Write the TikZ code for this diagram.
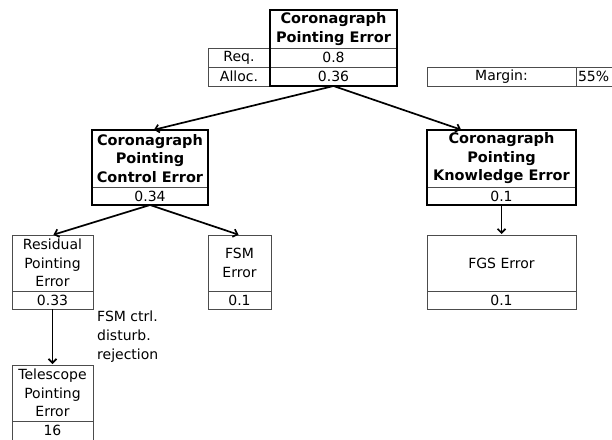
\documentclass[tikz,border=0pt]{standalone}
\usepackage{fontspec}
\setmainfont{DejaVu Sans}
\usetikzlibrary{positioning,calc,arrows.meta}

\begin{document}
\begin{tikzpicture}[x=1pt,y=-1pt,
  cell/.style={draw=black!70,line width=0.8pt,outer sep=0pt,inner sep=0pt,align=center,font=\fontsize{14}{18.5}\selectfont},
  headcell/.style={cell,font=\fontsize{14.5}{18.5}\selectfont\bfseries},
  frame/.style={draw=black,line width=1.8pt},
  link/.style={-{Straight Barb[length=4pt,width=8pt]},line width=1.7pt,shorten >=1pt}]
\useasboundingbox (0,0) rectangle (612,439);
\node[headcell,minimum width=127pt,minimum height=38pt] (top) at (333.5,29) {Coronagraph\\Pointing Error};
\node[cell,minimum width=127pt,minimum height=19pt,below=0pt of top] (topreq) {0.8};
\node[cell,minimum width=127pt,minimum height=19pt,below=0pt of topreq] (topalloc) {0.36};
\node[cell,minimum width=62pt,minimum height=19pt,left=0pt of topreq] (reqlabel) {Req.};
\node[cell,minimum width=62pt,minimum height=19pt,left=0pt of topalloc] (alloclabel) {Alloc.};
\draw[frame] (top.north west) rectangle (topalloc.south east);
\node[cell,minimum width=149pt,minimum height=19pt] (margin) at (501.5,76.5) {Margin:};
\node[cell,minimum height=19pt,text width=40pt,inner xsep=2pt,align=left,right=0pt of margin] (marginval) {55\%};
\node[headcell,minimum width=116pt,minimum height=57pt] (ctrl) at (150,158.5) {Coronagraph\\Pointing\\Control Error};
\node[cell,minimum width=116pt,minimum height=18pt,below=0pt of ctrl] (ctrlval) {0.34};
\draw[frame] (ctrl.north west) rectangle (ctrlval.south east);
\node[headcell,minimum width=149pt,minimum height=57pt] (know) at (501.5,158.5) {Coronagraph\\Pointing\\Knowledge Error};
\node[cell,minimum width=149pt,minimum height=18pt,below=0pt of know] (knowval) {0.1};
\draw[frame] (know.north west) rectangle (knowval.south east);
\node[cell,minimum width=81pt,minimum height=56pt] (resid) at (52.5,263) {Residual\\Pointing\\Error};
\node[cell,minimum width=81pt,minimum height=18pt,below=0pt of resid] (residval) {0.33};
\node[cell,minimum width=63pt,minimum height=56pt] (fsm) at (239.5,263) {FSM\\Error};
\node[cell,minimum width=63pt,minimum height=18pt,below=0pt of fsm] (fsmval) {0.1};
\node[cell,minimum width=149pt,minimum height=56pt] (fgs) at (501.5,263) {FGS Error};
\node[cell,minimum width=149pt,minimum height=18pt,below=0pt of fgs] (fgsval) {0.1};
\node[cell,minimum width=81pt,minimum height=56pt] (tele) at (52.5,393) {Telescope\\Pointing\\Error};
\node[cell,minimum width=81pt,minimum height=19pt,below=0pt of tele] (televal) {16};
\node[anchor=north west,align=left,inner sep=0pt,font=\fontsize{14}{19}\selectfont] (rejlabel) at (97,311) {FSM ctrl.\\disturb.\\rejection};
\draw[link] (topalloc.south) -- ($(ctrl.north)+(3,0)$);
\draw[link] (topalloc.south) -- ($(know.north west)!0.235!(know.north east)$);
\draw[link] (ctrlval.south) -- (resid.north);
\draw[link] (ctrlval.south) -- (fsm.north);
\draw[link] (knowval.south) -- (fgs.north);
\draw[link] (residval.south) -- (tele.north);
\end{tikzpicture}
\end{document}
